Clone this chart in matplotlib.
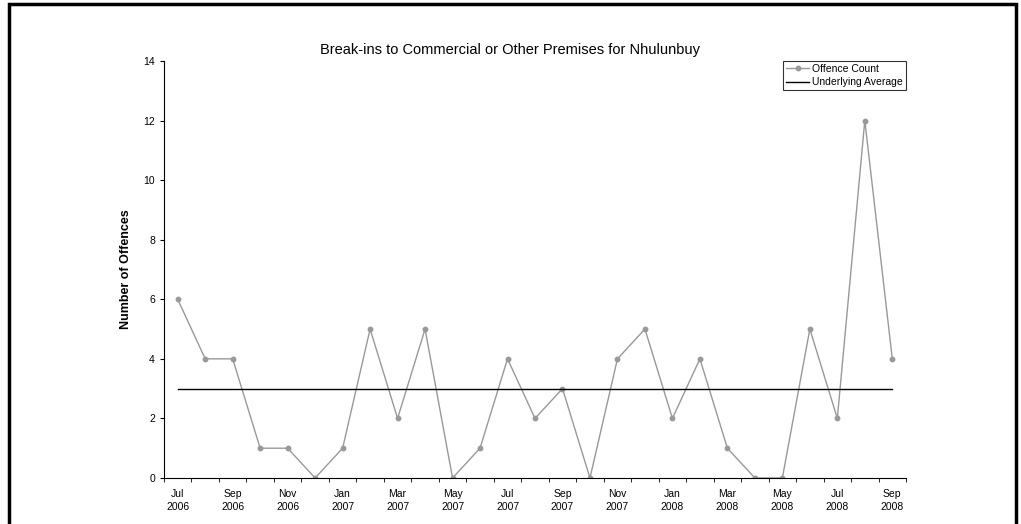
import numpy as np
import matplotlib.pyplot as plt
from matplotlib.patches import Rectangle

plt.rcParams['font.family'] = ['Liberation Sans', 'DejaVu Sans']

# Monthly data, Jul 2006 - Sep 2008
months = ['Jul\n2006', 'Aug\n2006', 'Sep\n2006', 'Oct\n2006', 'Nov\n2006', 'Dec\n2006',
          'Jan\n2007', 'Feb\n2007', 'Mar\n2007', 'Apr\n2007', 'May\n2007', 'Jun\n2007',
          'Jul\n2007', 'Aug\n2007', 'Sep\n2007', 'Oct\n2007', 'Nov\n2007', 'Dec\n2007',
          'Jan\n2008', 'Feb\n2008', 'Mar\n2008', 'Apr\n2008', 'May\n2008', 'Jun\n2008',
          'Jul\n2008', 'Aug\n2008', 'Sep\n2008']
offence_count = [6, 4, 4, 1, 1, 0, 1, 5, 2, 5, 0, 1, 4, 2, 3, 0, 4, 5, 2, 4, 1, 0, 0, 5, 2, 12, 4]
underlying_avg = [3] * len(months)

fig = plt.figure(figsize=(10.21, 5.24), dpi=100)
ax = fig.add_axes([0.1606, 0.0878, 0.8874 - 0.1606, 0.8836 - 0.0878])

x = np.arange(len(months))
ax.plot(x, offence_count, color='#999999', lw=1, marker='o', ms=3.2, label='Offence Count')
ax.plot(x, underlying_avg, color='black', lw=1, label='Underlying Average')

ax.set_xlim(-0.5, len(months) - 0.5)
ax.set_ylim(0, 14)
ax.set_yticks(range(0, 15, 2))
ax.set_xticks(x[::2])
ax.set_xticklabels(months[::2], fontsize=7.5, linespacing=1.4)
ax.set_xticks(np.arange(-0.5, len(months), 1), minor=True)
ax.tick_params(axis='x', which='major', length=0, pad=8)
ax.tick_params(axis='x', which='minor', length=3, direction='out')
ax.tick_params(axis='y', labelsize=7.5, length=3, direction='out')

ax.spines['top'].set_visible(False)
ax.spines['right'].set_visible(False)

ax.set_ylabel('Number of Offences', fontsize=9, fontweight='bold', labelpad=8)
fig.text(0.4995, 0.905, 'Break-ins to Commercial or Other Premises for Nhulunbuy',
         ha='center', va='center', fontsize=10.5)

leg = ax.legend(loc='upper right', bbox_to_anchor=(1.0, 1.0), fontsize=7.5, frameon=True,
                fancybox=False, edgecolor='black', handlelength=2.2, borderpad=0.3,
                labelspacing=0.3, handletextpad=0.3, borderaxespad=0)
leg.get_frame().set_linewidth(0.8)

# outer border of the chart
fig.patches.append(Rectangle((9 / 1021, -0.05), (1016 - 9) / 1021, 1.0 - 4 / 524 + 0.05,
                             transform=fig.transFigure, fill=False, lw=2.5, ec='black'))

fig.savefig('out.png', dpi=100)
